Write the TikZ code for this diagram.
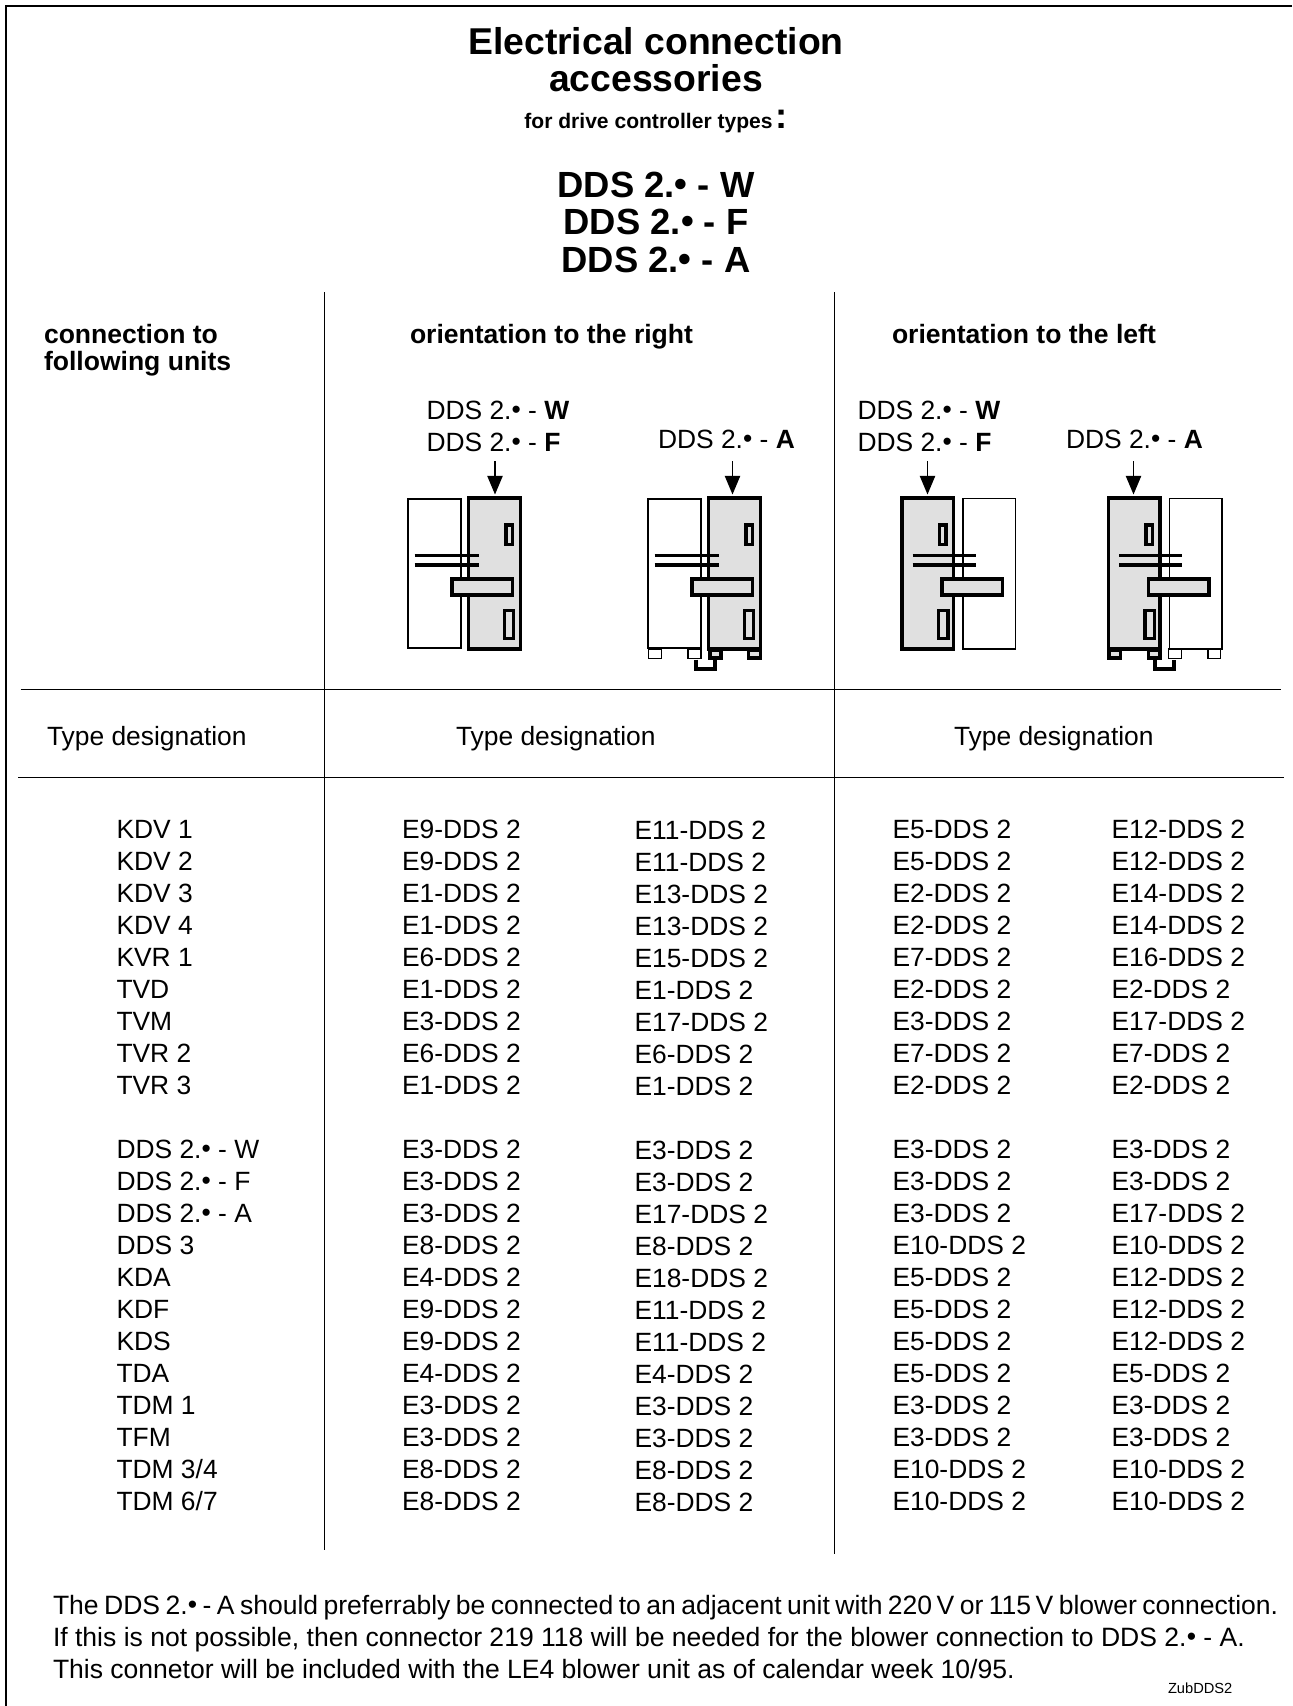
\documentclass[tikz,border=0pt]{standalone}
\usepackage{fontspec}
\setmainfont{Liberation Sans}
\usetikzlibrary{arrows.meta}

\tikzset{
  every node/.style={inner sep=0pt, outer sep=0pt, anchor=base west},
  body/.style={font=\fontsize{19.8}{24}\selectfont},
  note/.style={font=\fontsize{19.9}{24}\selectfont},
  heading/.style={font=\fontsize{19.9}{24}\selectfont\bfseries},
  title/.style={font=\fontsize{28}{33}\selectfont\bfseries, anchor=base},
  subtitle/.style={font=\fontsize{27.3}{33}\selectfont\bfseries, anchor=base},
  rule/.style={line width=1.1pt},
  frameline/.style={line width=1.8pt},
  plainunit/.style={line width=1pt, fill=white},
  boldunit/.style={line width=2.3pt},
  shaded/.style={boldunit, fill=black!12},
  marker/.style={line width=1pt, -{Triangle[width=11.5pt,length=14pt]}}
}
\newcommand{\Dot}{\raisebox{.02em}{\textbullet}}

\begin{document}
\begin{tikzpicture}[x=0.75pt, y=-0.75pt]
  \useasboundingbox (0, 0) rectangle (1292, 1706);

  % Frame
  \coordinate (frameA) at (1292, 6);
  \coordinate (frameB) at (6, 6);
  \coordinate (frameC) at (6, 1706);
  \draw [frameline] (frameA) -- (frameB) -- (frameC);

  % Title
  \node [title] (titleA) at (656, 54) {Electrical connection};
  \node [title] (titleB) at (656, 91) {accessories};
  \node [font=\fontsize{15.8}{19}\selectfont\bfseries, anchor=base] (titleC) at (648.5, 128)
    {for drive controller types\rlap{\hspace{2.5pt}\fontsize{27.3}{33}\selectfont:}};
  \node [subtitle] (titleD) at (656, 197) {DDS 2.\Dot{} - W};
  \node [subtitle] (titleE) at (656, 234) {DDS 2.\Dot{} - F};
  \node [subtitle] (titleF) at (656, 272) {DDS 2.\Dot{} - A};

  % Table rules
  \coordinate (ruleA) at (324.5, 292);
  \coordinate (ruleB) at (324.5, 1549.5);
  \coordinate (ruleC) at (834.5, 292);
  \coordinate (ruleD) at (834.5, 1554);
  \coordinate (ruleE) at (20.5, 689.5);
  \coordinate (ruleF) at (1281, 689.5);
  \coordinate (ruleG) at (18, 777.5);
  \coordinate (ruleH) at (1284, 777.5);
  \draw [rule] (ruleA) -- (ruleB);
  \draw [rule] (ruleC) -- (ruleD);
  \draw [rule] (ruleE) -- (ruleF);
  \draw [rule] (ruleG) -- (ruleH);

  % Headings
  \node [heading] (headA) at (44, 343) {connection to};
  \node [heading] (headB) at (44, 370) {following units};
  \node [heading] (headC) at (410, 343) {orientation to the right};
  \node [heading] (headD) at (892, 343) {orientation to the left};
  \node [body] (typeA) at (47, 745) {Type designation};
  \node [body] (typeB) at (456, 745) {Type designation};
  \node [body] (typeC) at (954, 745) {Type designation};

  % Unit labels
  \node [body] (labelA) at (426.5, 419) {DDS 2.\Dot{} - \textbf{W}};
  \node [body] (labelB) at (426.5, 451) {DDS 2.\Dot{} - \textbf{F}};
  \node [body] (labelC) at (658, 448) {DDS 2.\Dot{} - \textbf{A}};
  \node [body] (labelD) at (857.5, 419) {DDS 2.\Dot{} - \textbf{W}};
  \node [body] (labelE) at (857.5, 451) {DDS 2.\Dot{} - \textbf{F}};
  \node [body] (labelF) at (1066, 448) {DDS 2.\Dot{} - \textbf{A}};

  % Orientation to the right
  \foreach \ox in {0, 240} {
    \begin{scope}[xshift=\ox*0.75pt]
      \draw [plainunit] (408, 499) rectangle (461, 648);
      \draw [shaded] (468.5, 498) rectangle (520.5, 649);
      \draw [boldunit] (506, 525) rectangle (512.5, 544.5);
      \draw [boldunit] (504.5, 610.5) rectangle (513.5, 638.5);
      \draw [boldunit] (414.5, 555.5) -- (478.5, 555.5);
      \draw [boldunit] (414.5, 565) -- (478.5, 565);
      \draw [shaded] (452, 579) rectangle (512.5, 595);
    \end{scope}
  }

  % Orientation to the left
  \foreach \ox in {0, 206.5} {
    \begin{scope}[xshift=\ox*0.75pt]
      \draw [plainunit] (963, 498.5) rectangle (1015.5, 649);
      \draw [shaded] (902, 498) rectangle (953.5, 649);
      \draw [boldunit] (939.5, 525) rectangle (946, 544.5);
      \draw [boldunit] (938.5, 610.5) rectangle (948, 638.5);
      \draw [boldunit] (912.5, 555.5) -- (975.5, 555.5);
      \draw [boldunit] (912.5, 565) -- (975.5, 565);
      \draw [shaded] (942, 579) rectangle (1002.5, 595);
    \end{scope}
  }

  % Feet
  \draw [line width=1pt, fill=white] (648.5, 649) rectangle (661.5, 658.5);
  \draw [line width=1pt, fill=white] (688, 649) rectangle (701, 658.5);
  \draw [shaded] (710, 650) rectangle (721, 658);
  \draw [shaded] (748.5, 650) rectangle (760.5, 658);
  \draw [boldunit] (696, 659.5) -- (696, 669) -- (715, 669) -- (715, 659.5);
  \draw [shaded] (1109, 650) rectangle (1120.5, 658);
  \draw [shaded] (1148.5, 650) rectangle (1160, 658);
  \draw [line width=1pt, fill=white] (1168.5, 649) rectangle (1181.5, 658.5);
  \draw [line width=1pt, fill=white] (1208, 649) rectangle (1220.5, 658.5);
  \draw [boldunit] (1155, 659.5) -- (1155, 669) -- (1174, 669) -- (1174, 659.5);

  % Arrows
  \foreach \nm/\ax in {A/495, B/732.5, C/927.5, D/1133.5} {
    \coordinate (from\nm) at (\ax, 461);
    \coordinate (to\nm) at (\ax, 494.5);
    \draw [marker] (from\nm) -- (to\nm);
  }

  % Rows
  \foreach \nm/\ca/\cb/\cc/\cd [count=\i from 0] in {
      KDV 1/E9/E11/E5/E12, KDV 2/E9/E11/E5/E12, KDV 3/E1/E13/E2/E14,
      KDV 4/E1/E13/E2/E14, KVR 1/E6/E15/E7/E16, TVD/E1/E1/E2/E2,
      TVM/E3/E17/E3/E17, TVR 2/E6/E6/E7/E7, TVR 3/E1/E1/E2/E2} {
    \pgfmathsetmacro{\ry}{838 + 32*\i}
    \node [body] (nameA\i) at (116.5, \ry) {\nm};
    \node [body] (cellA\i) at (402, \ry) {\ca-DDS 2};
    \node [body] (cellB\i) at (634.5, \ry+1) {\cb-DDS 2};
    \node [body] (cellC\i) at (892.5, \ry) {\cc-DDS 2};
    \node [body] (cellD\i) at (1111.5, \ry) {\cd-DDS 2};
  }
  \foreach \nm/\ca/\cb/\cc/\cd [count=\i from 10] in {
      {DDS 2.\Dot{} - W}/E3/E3/E3/E3, {DDS 2.\Dot{} - F}/E3/E3/E3/E3,
      {DDS 2.\Dot{} - A}/E3/E17/E3/E17, DDS 3/E8/E8/E10/E10,
      KDA/E4/E18/E5/E12, KDF/E9/E11/E5/E12, KDS/E9/E11/E5/E12,
      TDA/E4/E4/E5/E5, TDM 1/E3/E3/E3/E3, TFM/E3/E3/E3/E3,
      TDM 3\slash 4/E8/E8/E10/E10, TDM 6\slash 7/E8/E8/E10/E10} {
    \pgfmathsetmacro{\ry}{838 + 32*\i}
    \node [body] (nameB\i) at (116.5, \ry) {\nm};
    \node [body] (cellE\i) at (402, \ry) {\ca-DDS 2};
    \node [body] (cellF\i) at (634.5, \ry+1) {\cb-DDS 2};
    \node [body] (cellG\i) at (892.5, \ry) {\cc-DDS 2};
    \node [body] (cellH\i) at (1111.5, \ry) {\cd-DDS 2};
  }

  % Note
  \node [note] (noteA) at (53, 1614) {\spaceskip=4.1pt The DDS 2.\Dot{} - A should preferrably be connected to an adjacent unit with 220\,V or 115\,V blower connection.};
  \node [note] (noteB) at (53, 1646) {If this is not possible, then connector 219 118 will be needed for the blower connection to DDS 2.\Dot{} - A.};
  \node [note] (noteC) at (53, 1678) {This connetor will be included with the LE4 blower unit as of calendar week 10/95.};
  \node [font=\fontsize{11}{13}\selectfont] (code) at (1168, 1693) {ZubDDS2};
\end{tikzpicture}
\end{document}
